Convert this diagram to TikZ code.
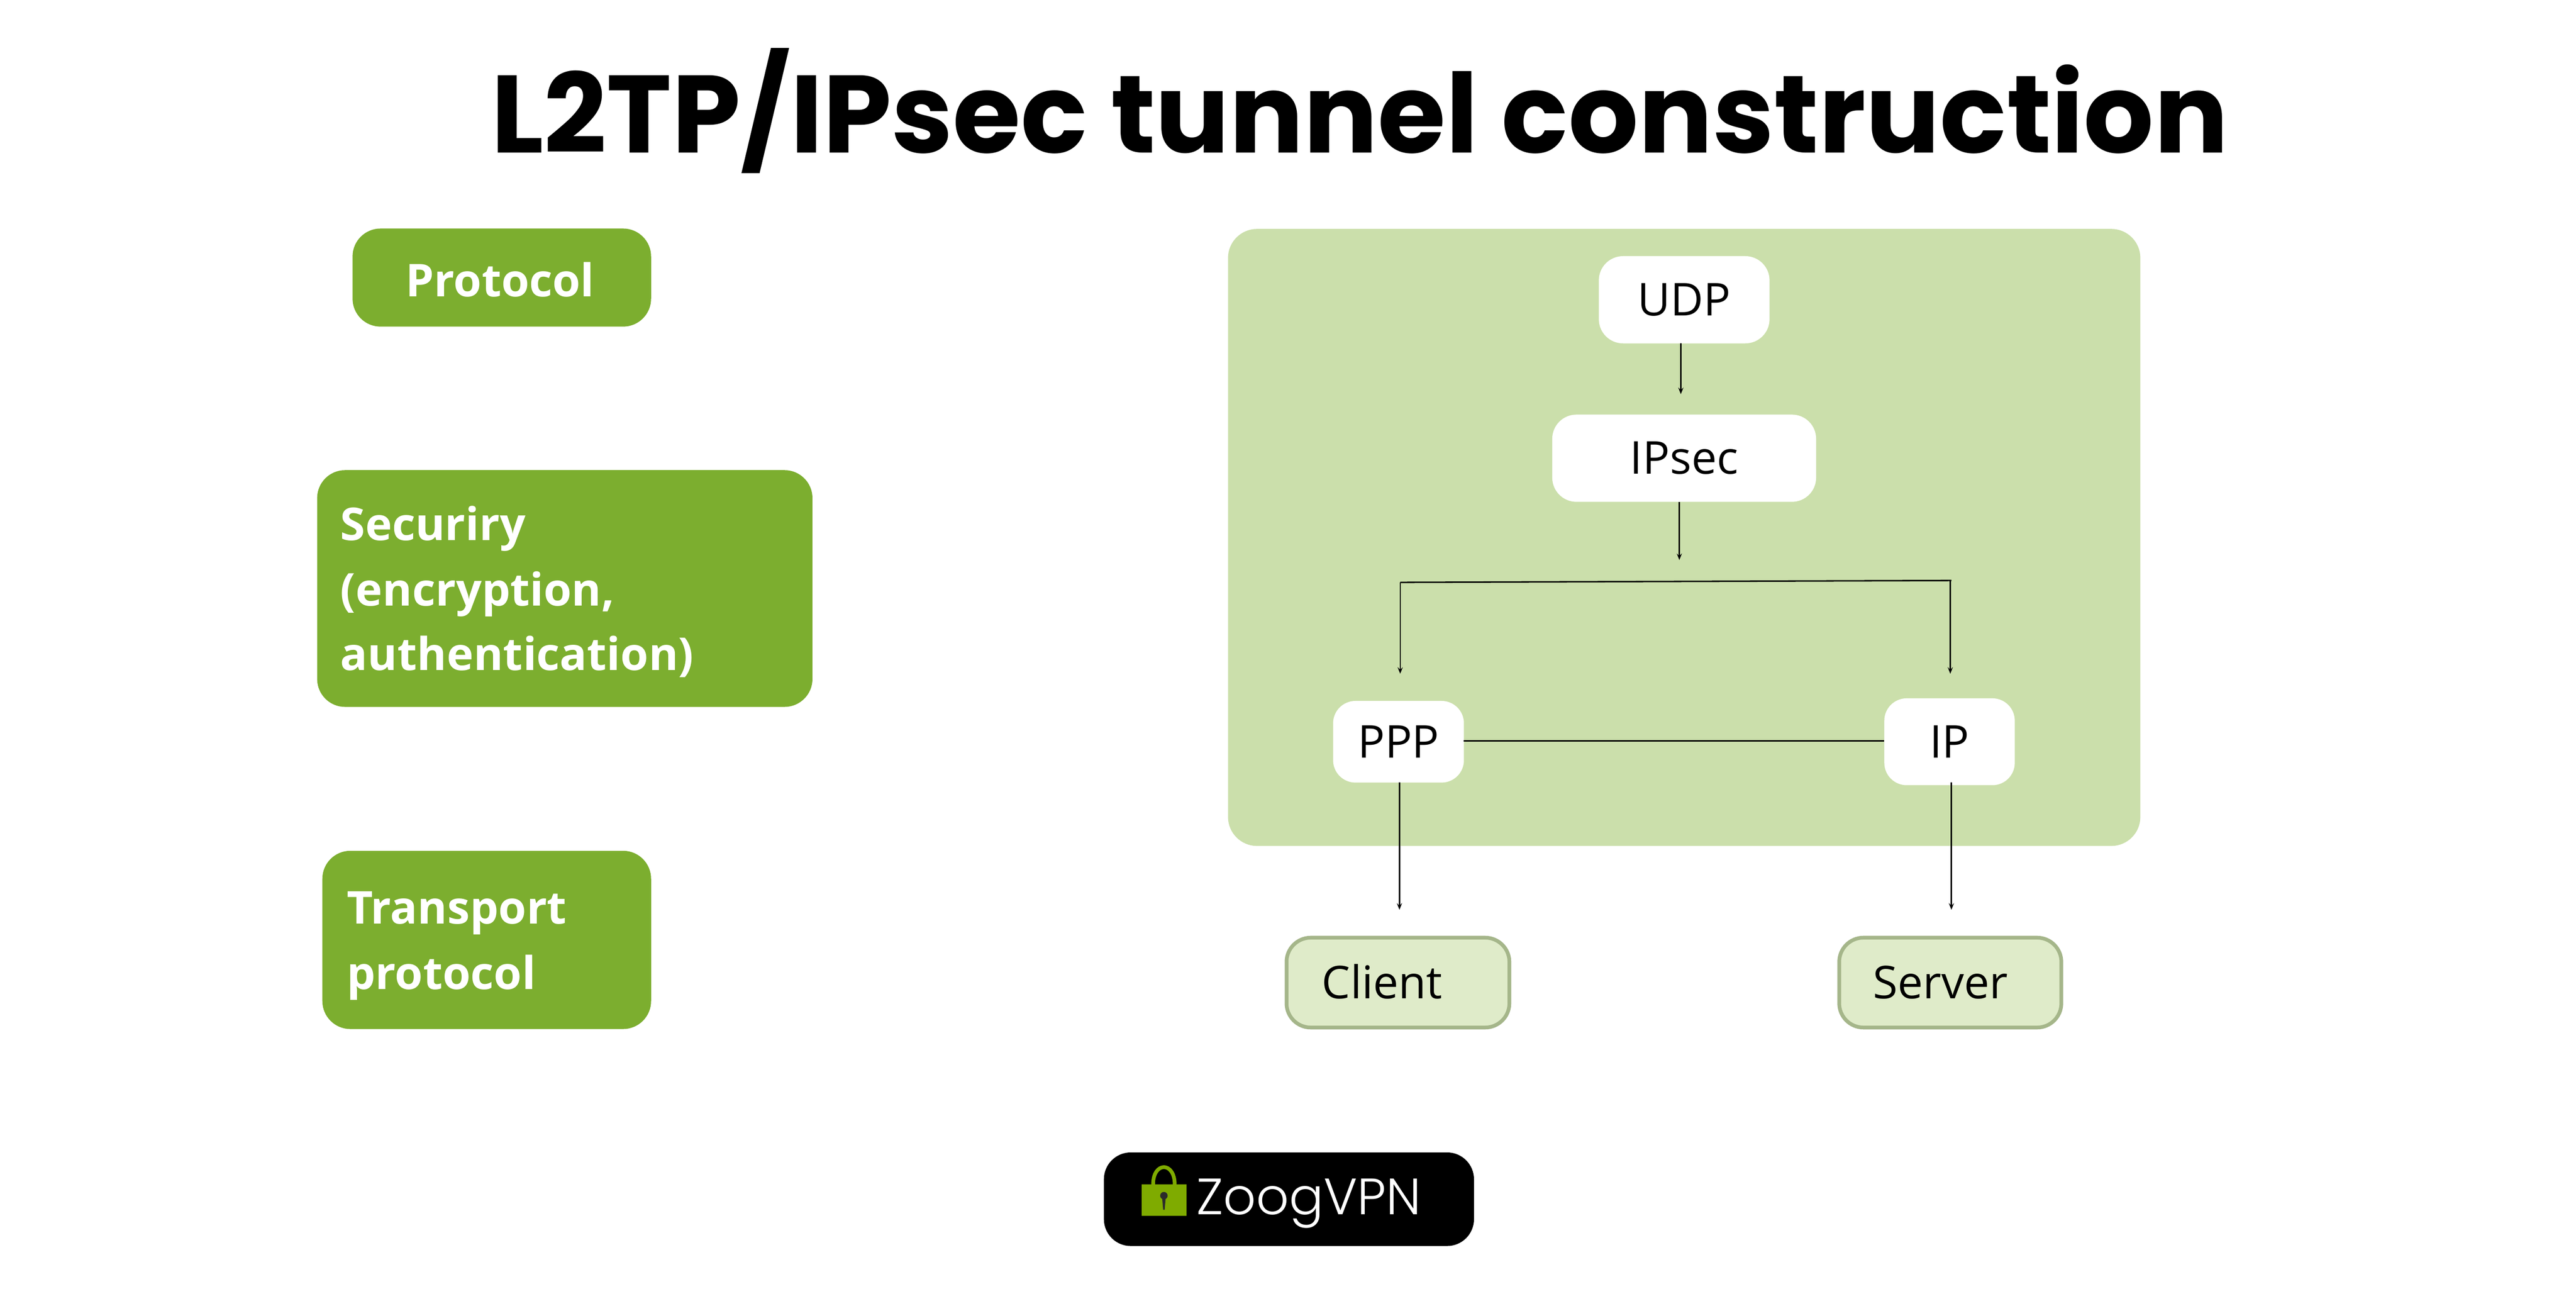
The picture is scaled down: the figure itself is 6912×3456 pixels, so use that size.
\documentclass[tikz,border=0pt]{standalone}
\usepackage{fontspec}
\setmainfont{Open Sans}
\newfontfamily\titlefont{Poppins}[UprightFont=*-Bold]
\newfontfamily\logofont{Poppins}[UprightFont=*-Light]
\usetikzlibrary{arrows.meta}
\definecolor{leaf}{HTML}{7CAE2F}
\definecolor{panelgreen}{HTML}{CBDFAB}
\definecolor{endfill}{HTML}{DFEBC9}
\definecolor{endline}{HTML}{A5B68A}
\definecolor{lockgreen}{HTML}{7FAB00}
\definecolor{keydark}{HTML}{2B2B2B}
\tikzset{
  x=0.01cm,y=-0.01cm,
  arr/.style={draw=black,line width=1.1pt,-{Stealth[length=5pt,width=4pt,inset=2pt]}},
  plainline/.style={draw=black,line width=1.1pt},
  mid/.style={font=\fontsize{34.5}{40}\selectfont,text=black,inner sep=0pt},
  lab/.style={font=\fontsize{34.5}{50}\selectfont\bfseries,text=white,align=left,inner sep=0pt,anchor=base west},
}
\newcommand{\rbox}[7]{% name, x0,y0,x1,y1, radius, style
  \node[#7,rounded corners=#6*0.01cm,minimum width=(#4-#2)*0.01cm,minimum height=(#5-#3)*0.01cm,inner sep=0pt,outer sep=0pt] (#1) at ({(#2+#4)/2},{(#3+#5)/2}) {};}
\begin{document}
\begin{tikzpicture}
\useasboundingbox (0,0) rectangle (6912,3456);
\fill[white] (0,0) rectangle (6912,3456);
% title
\node[font=\titlefont\fontsize{84}{90}\selectfont,anchor=base west,inner sep=0pt] (title) at (1318,410) {L2TP/IPsec tunnel construction};
% left labels
\rbox{pbox}{946}{613}{1747}{876}{75}{fill=leaf}
\rbox{sbox}{851}{1261}{2180}{1896}{75}{fill=leaf}
\rbox{tbox}{865}{2282}{1747}{2760}{75}{fill=leaf}
\node[lab] (ptext) at (1088,795) {Protocol};
\node[lab] (stext1) at (913,1449) {Securiry};
\node[lab] (stext2) at (913,1625) {(encryption,};
\node[lab] (stext3) at (913,1798) {authentication)};
\node[lab] (ttext1) at (930,2478) {Transport};
\node[lab] (ttext2) at (930,2654) {protocol};
% panel
\rbox{panel}{3295}{614}{5743}{2269}{78}{fill=panelgreen}
\rbox{udp}{4290}{687}{4748}{921}{65}{fill=white}
\rbox{ipsec}{4165}{1112}{4873}{1346}{65}{fill=white}
\rbox{ppp}{3577}{1880}{3928}{2099}{60}{fill=white}
\rbox{ip}{5056}{1873}{5406}{2106}{60}{fill=white}
\node[mid] (tudp) at (udp) {UDP};
\node[mid] (tipsec) at (ipsec) {IPsec};
\node[mid] (tppp) at (ppp) {PPP};
\node[mid] (tip) at (ip) {IP};
\rbox{client}{3452}{2515}{4050}{2756}{65}{fill=endfill,draw=endline,line width=10*0.01cm}
\rbox{server}{4935}{2515}{5531}{2756}{65}{fill=endfill,draw=endline,line width=10*0.01cm}
\node[mid,anchor=base west] (tclient) at (3546,2678) {Client};
\node[mid,anchor=base west] (tserver) at (5025,2678) {Server};
% connectors
\coordinate (a0) at (4510,921);
\coordinate (a1) at (4510,1057);
\coordinate (b0) at (4506,1346);
\coordinate (b1) at (4506,1502);
\coordinate (hl) at (3757,1562);
\coordinate (hr) at (5236,1557);
\coordinate (l1) at (3757,1807);
\coordinate (r0) at (5233,1557);
\coordinate (r1) at (5233,1807);
\coordinate (c0) at (3755,2099);
\coordinate (c1) at (3755,2440);
\coordinate (d0) at (5236,2099);
\coordinate (d1) at (5236,2440);
\draw[arr] (a0) -- (a1);
\draw[arr] (b0) -- (b1);
\draw[plainline] (hl) -- (hr);
\draw[arr,line width=.8pt] (hl) -- (l1);
\draw[arr,line width=.8pt] (r0) -- (r1);
\draw[plainline] (ppp.east |- 0,1987) -- (ip.west |- 0,1987);
\draw[arr] (c0) -- (c1);
\draw[arr] (d0) -- (d1);
% logo
\rbox{logo}{2962}{3091}{3955}{3342}{72}{fill=black}
\fill[lockgreen] (3064,3177) rectangle (3183,3261);
\draw[lockgreen,line width=10*0.01cm] (3094,3177) .. controls (3094,3115) and (3152,3115) .. (3152,3177);
\fill[keydark] (3123,3207) circle (10);
\fill[keydark] (3118,3210) -- (3128,3210) -- (3125,3245) -- (3121,3245) -- cycle;
\node[font=\logofont\fontsize{39}{40}\selectfont,text=white,anchor=base west,inner sep=0pt] (zoog) at (3210,3257) {ZoogVPN};
\end{tikzpicture}
\end{document}
